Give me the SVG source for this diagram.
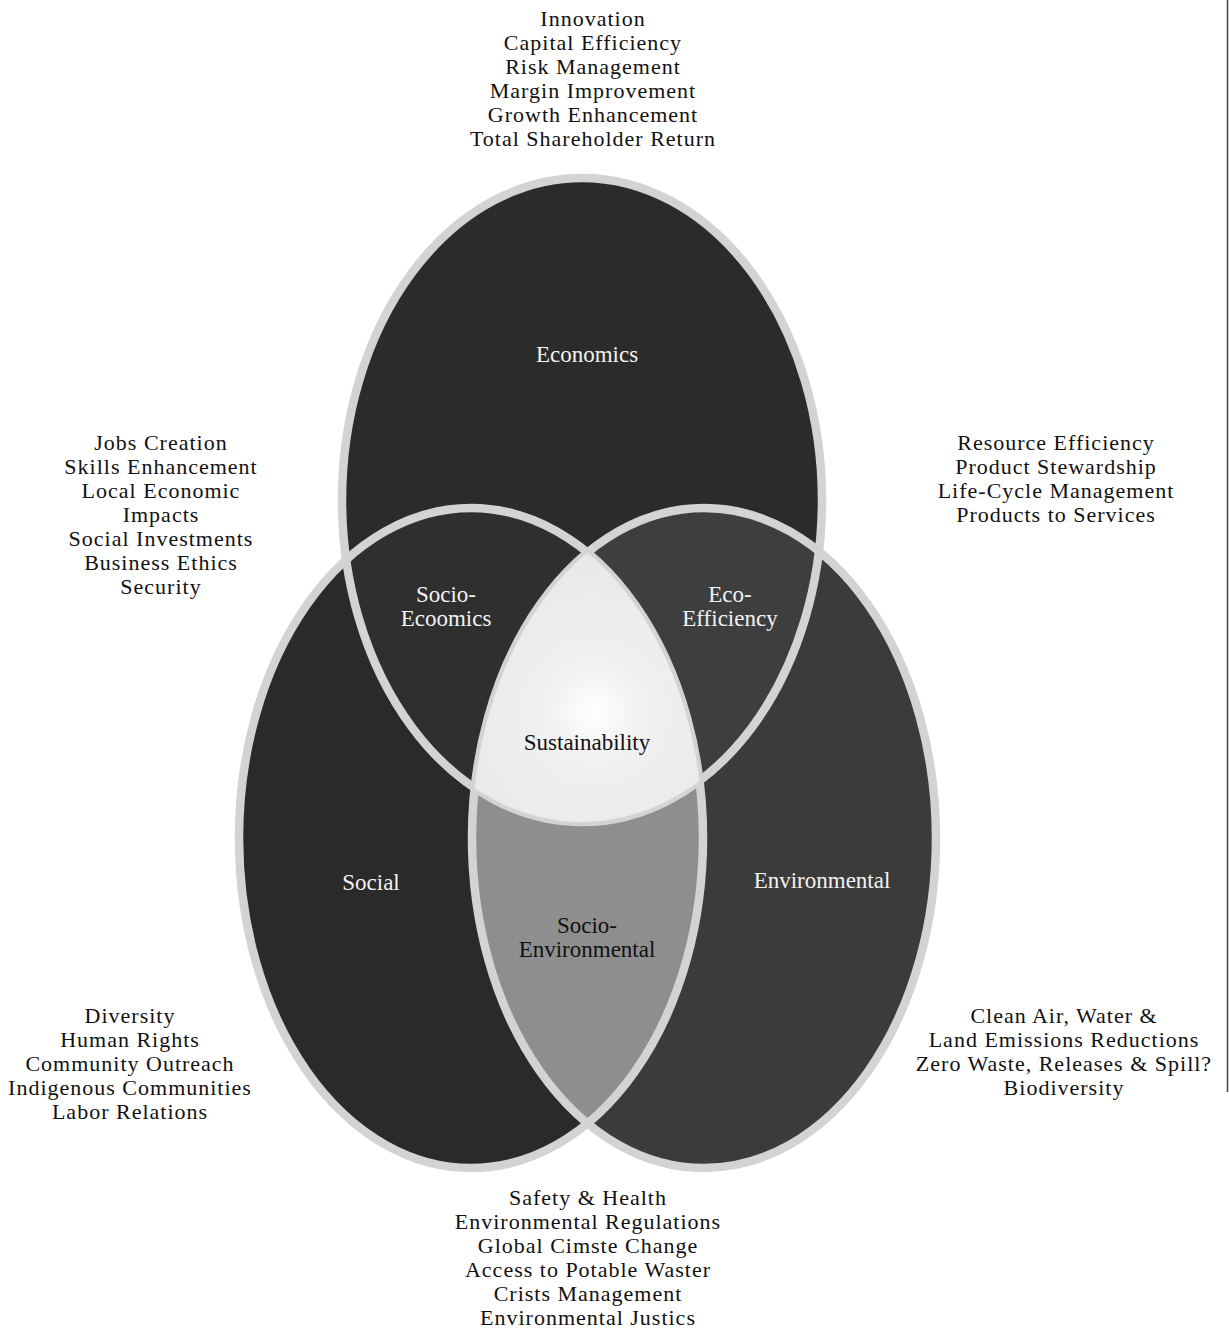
<svg xmlns="http://www.w3.org/2000/svg" xmlns:xlink="http://www.w3.org/1999/xlink" width="1229" height="1330" viewBox="0 0 1229 1330">
  <style>
    .list { font-family: "Liberation Serif", "Times New Roman", serif; font-size: 22px; letter-spacing: 1px; fill: #111; text-anchor: middle; }
    .lbl { font-family: "Liberation Serif", "Times New Roman", serif; font-size: 23px; text-anchor: middle; }
    .light { fill: #f2f2f2; }
    .dark { fill: #111; }
    .ring { fill: none; stroke: #d3d3d3; stroke-width: 8.5; }
  </style>
  <defs>
    <!-- the three circles of the Venn diagram -->
    <ellipse id="eEco" cx="582" cy="500" rx="240" ry="322"/>
    <ellipse id="eSoc" cx="471" cy="838" rx="232" ry="330"/>
    <ellipse id="eEnv" cx="704" cy="838" rx="232" ry="330"/>
    <clipPath id="cEco"><use xlink:href="#eEco"/></clipPath>
    <clipPath id="cSoc"><use xlink:href="#eSoc"/></clipPath>
    <clipPath id="cEnv"><use xlink:href="#eEnv"/></clipPath>
    <radialGradient id="glow" gradientUnits="userSpaceOnUse" cx="595" cy="712" r="190">
      <stop offset="0" stop-color="#ffffff"/>
      <stop offset="0.25" stop-color="#f1f1f1"/>
      <stop offset="1" stop-color="#e5e5e5"/>
    </radialGradient>
  </defs>

  <rect width="1229" height="1330" fill="#ffffff"/>
  <line x1="1227.5" y1="0" x2="1227.5" y2="1092" stroke="#444" stroke-width="1.5"/>

  <!-- main circles -->
  <g id="economics">
    <use xlink:href="#eEco" fill="#2b2b2b"/>
    <text class="lbl light" x="587" y="362">Economics</text>
  </g>
  <g id="social">
    <use xlink:href="#eSoc" fill="#2a2a2a"/>
    <text class="lbl light" x="371" y="890">Social</text>
  </g>
  <g id="environmental">
    <use xlink:href="#eEnv" fill="#3b3b3b"/>
    <text class="lbl light" x="822" y="888">Environmental</text>
  </g>

  <!-- pairwise overlaps -->
  <g id="socio-economics">
    <g clip-path="url(#cSoc)"><use xlink:href="#eEco" fill="#2f2f2f"/></g>
    <text class="lbl light" x="446" y="602">Socio-</text>
    <text class="lbl light" x="446" y="626">Ecoomics</text>
  </g>
  <g id="eco-efficiency">
    <g clip-path="url(#cEnv)"><use xlink:href="#eEco" fill="#3e3e3e"/></g>
    <text class="lbl light" x="730" y="602">Eco-</text>
    <text class="lbl light" x="730" y="626">Efficiency</text>
  </g>
  <g id="socio-environmental">
    <g clip-path="url(#cEnv)"><use xlink:href="#eSoc" fill="#8e8e8e"/></g>
    <text class="lbl dark" x="587" y="933">Socio-</text>
    <text class="lbl dark" x="587" y="957">Environmental</text>
  </g>

  <!-- circle outlines -->
  <g id="outlines">
    <use xlink:href="#eEco" class="ring"/>
    <use xlink:href="#eSoc" class="ring"/>
    <use xlink:href="#eEnv" class="ring"/>
  </g>

  <!-- centre: all three overlap -->
  <g id="sustainability">
    <g clip-path="url(#cEco)"><g clip-path="url(#cSoc)"><use xlink:href="#eEnv" fill="url(#glow)"/></g></g>
    <text class="lbl dark" x="587" y="750">Sustainability</text>
  </g>

  <!-- outer lists -->
  <g id="list-economics">
    <text class="list" x="593" y="26">Innovation</text>
    <text class="list" x="593" y="50">Capital Efficiency</text>
    <text class="list" x="593" y="74">Risk Management</text>
    <text class="list" x="593" y="98">Margin Improvement</text>
    <text class="list" x="593" y="122">Growth Enhancement</text>
    <text class="list" x="593" y="146">Total Shareholder Return</text>
  </g>
  <g id="list-socio-economics">
    <text class="list" x="161" y="450">Jobs Creation</text>
    <text class="list" x="161" y="474">Skills Enhancement</text>
    <text class="list" x="161" y="498">Local Economic</text>
    <text class="list" x="161" y="522">Impacts</text>
    <text class="list" x="161" y="546">Social Investments</text>
    <text class="list" x="161" y="570">Business Ethics</text>
    <text class="list" x="161" y="594">Security</text>
  </g>
  <g id="list-eco-efficiency">
    <text class="list" x="1056" y="450">Resource Efficiency</text>
    <text class="list" x="1056" y="474">Product Stewardship</text>
    <text class="list" x="1056" y="498">Life-Cycle Management</text>
    <text class="list" x="1056" y="522">Products to Services</text>
  </g>
  <g id="list-social">
    <text class="list" x="130" y="1023">Diversity</text>
    <text class="list" x="130" y="1047">Human Rights</text>
    <text class="list" x="130" y="1071">Community Outreach</text>
    <text class="list" x="130" y="1095">Indigenous Communities</text>
    <text class="list" x="130" y="1119">Labor Relations</text>
  </g>
  <g id="list-environmental">
    <text class="list" x="1064" y="1023">Clean Air, Water &amp;</text>
    <text class="list" x="1064" y="1047">Land Emissions Reductions</text>
    <text class="list" x="1064" y="1071">Zero Waste, Releases &amp; Spill?</text>
    <text class="list" x="1064" y="1095">Biodiversity</text>
  </g>
  <g id="list-socio-environmental">
    <text class="list" x="588" y="1205">Safety &amp; Health</text>
    <text class="list" x="588" y="1229">Environmental Regulations</text>
    <text class="list" x="588" y="1253">Global Cimste Change</text>
    <text class="list" x="588" y="1277">Access to Potable Waster</text>
    <text class="list" x="588" y="1301">Crists Management</text>
    <text class="list" x="588" y="1325">Environmental Justics</text>
  </g>
</svg>
